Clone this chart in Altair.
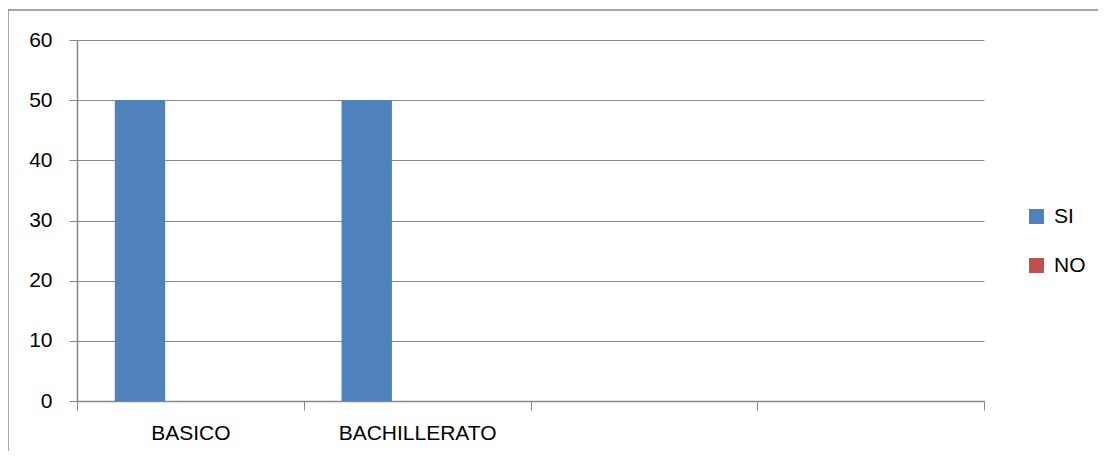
import altair as alt
import pandas as pd

categories = ["BASICO", "BACHILLERATO", " ", "  "]
series = ["SI", "NO"]
si_values = [50, 50, 0, 0]
no_values = [0, 0, 0, 0]
offset_domain = ["SI", "NO", "_"]
colors = ["#4F81BD", "#C0504D"]
y_ticks = [0, 10, 20, 30, 40, 50, 60]

rows = []
for c, v in zip(categories, si_values):
    rows.append({"cat": c, "serie": "SI", "valor": v})
for c, v in zip(categories, no_values):
    rows.append({"cat": c, "serie": "NO", "valor": v})
df = pd.DataFrame(rows)

FONT = "Liberation Sans"
GRID = "#888888"

bars = alt.Chart(df).mark_bar().encode(
    x=alt.X("cat:N", sort=categories, title=None,
            scale=alt.Scale(domain=categories, paddingInner=0, paddingOuter=0),
            axis=alt.Axis(labelAngle=0, tickBand="extent", domainColor=GRID,
                          tickColor=GRID, tickSize=9, labelPadding=12,
                          labelFontSize=21, labelFont=FONT, labelColor="#000000",
                          grid=False)),
    xOffset=alt.XOffset("serie:N", scale=alt.Scale(domain=offset_domain,
                                                   paddingInner=0, paddingOuter=0.75)),
    y=alt.Y("valor:Q", title=None,
            scale=alt.Scale(domain=[0, 60], nice=False),
            axis=alt.Axis(values=y_ticks, domainColor=GRID, tickColor=GRID,
                          tickSize=8, gridColor=GRID, labelPadding=17,
                          labelFontSize=21, labelFont=FONT, labelColor="#000000")),
    color=alt.Color("serie:N", scale=alt.Scale(domain=series, range=colors),
                    legend=alt.Legend(title=None, orient="none", legendX=949,
                                      legendY=166, symbolType="square",
                                      symbolSize=225, symbolStrokeWidth=0,
                                      labelFontSize=21, labelFont=FONT,
                                      labelColor="#000000", labelOffset=7,
                                      rowPadding=27, padding=0)),
)

border_top = alt.Chart(alt.Data(values=[{"a": 1}])).mark_rule(
    color=GRID, strokeWidth=1.5).encode(
    x=alt.value(-69), x2=alt.value(1100), y=alt.value(-30), y2=alt.value(-30))
border_left = alt.Chart(alt.Data(values=[{"a": 1}])).mark_rule(
    color=GRID, strokeWidth=1.5).encode(
    x=alt.value(-69), x2=alt.value(-69), y=alt.value(-30), y2=alt.value(500))

chart = alt.layer(bars, border_top, border_left).properties(
    width=907, height=361,
    padding={"left": 69, "top": 32, "right": 114, "bottom": 50},
    autosize=alt.AutoSizeParams(type="none"),
).configure_view(stroke=None).configure_axis(gridWidth=1, domainWidth=1.5)

chart.save("out.html", embed_options={"renderer": "svg", "actions": False})
